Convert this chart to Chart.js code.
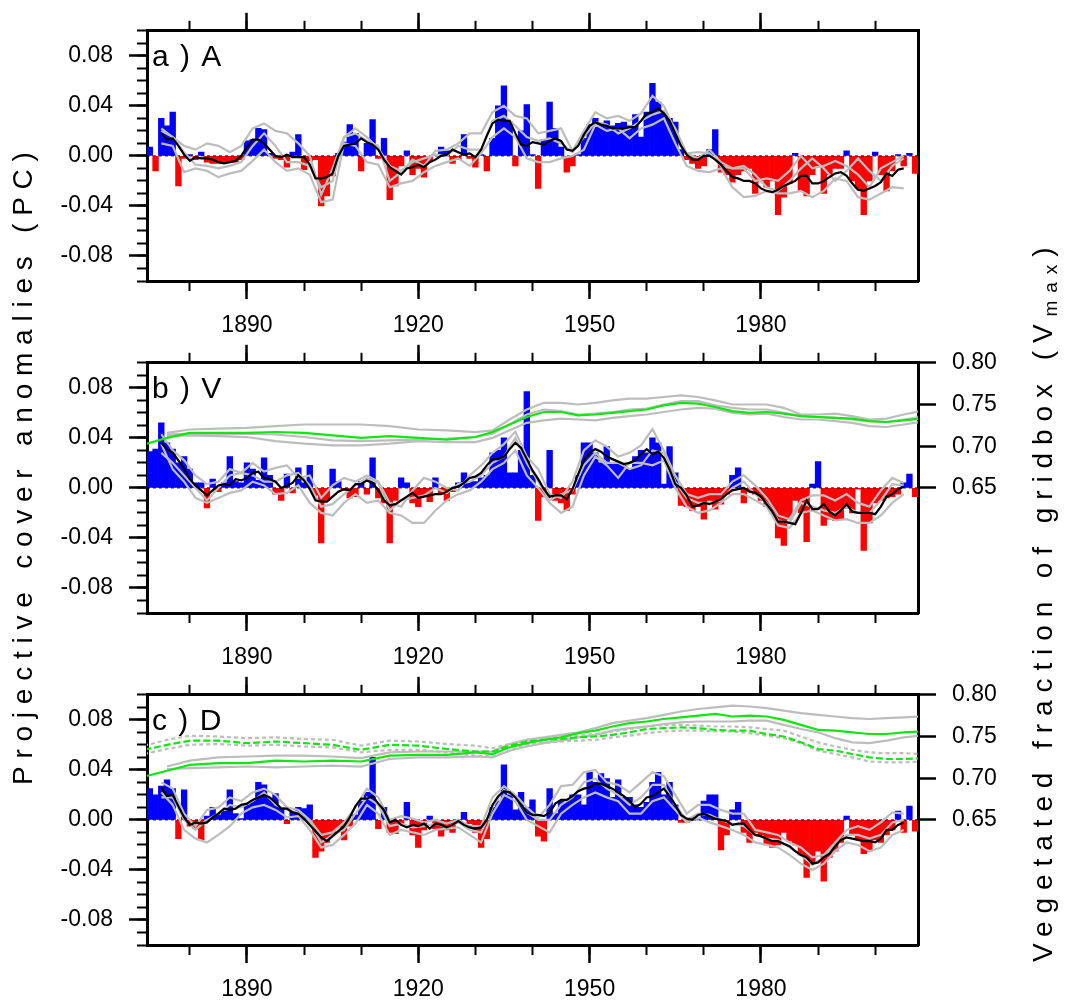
<!DOCTYPE html>
<html>
<head>
<meta charset="utf-8">
<script src="https://cdn.jsdelivr.net/npm/chart.js@4.4.1/dist/chart.umd.min.js"></script>
<style>
  body { margin: 0; background: #fff; width: 1066px; height: 1002px; position: relative; overflow: hidden;
         font-family: "Liberation Sans", Arial, sans-serif; color: #000; }
  .panel { position: absolute; left: 0; width: 1066px; height: 333px; }
  /* axis titles turn about their left-middle point, so "top" fixes where the text starts */
  .ytitle { position: absolute; white-space: nowrap; font-size: 28px; line-height: 28px; height: 28px;
            transform-origin: 0 50%; transform: rotate(-90deg); }
  .ytitle sub { font-size: 19px; vertical-align: -5px; line-height: 0; }
</style>
</head>
<body>
<div class="panel" style="top:1px"><canvas id="panelA" width="1066" height="333"></canvas></div>
<div class="panel" style="top:333px"><canvas id="panelV" width="1066" height="333"></canvas></div>
<div class="panel" style="top:665px"><canvas id="panelD" width="1066" height="333"></canvas></div>
<div class="ytitle" id="titleLeft" style="left:23px; top:771px">Projective cover anomalies (PC)</div>
<div class="ytitle" id="titleRight" style="left:1043px; top:948px">Vegetated fraction of gridbox (V<sub>max</sub>)</div>
<script>
// ---- data: yearly anomalies, bars 1873-2007 ----
const firstBarYear = 1873;
const barsA = [
  0.007, -0.012, 0.030, 0.024, 0.035, -0.024, -0.002, 0.001, -0.003, 0.003,
  -0.005, -0.006, -0.006, -0.006, -0.005, -0.005, -0.003, 0.012, 0.013, 0.022,
  0.021, 0.002, -0.002, -0.003, -0.009, 0.003, 0.017, -0.011, -0.004, -0.003,
  -0.040, -0.032, -0.016, 0.002, 0.011, 0.025, 0.018, -0.012, 0.010, 0.029,
  -0.002, 0.014, -0.035, -0.024, -0.008, 0.004, -0.015, -0.010, -0.017, -0.004,
  0.001, 0.007, 0.004, -0.006, -0.003, 0.017, -0.002, -0.009, 0.001, -0.012,
  0.014, 0.040, 0.056, 0.027, -0.008, 0.020, 0.041, 0.001, -0.026, 0.013,
  0.043, 0.022, 0.007, -0.013, -0.008, 0.001, 0.014, 0.025, 0.030, 0.025,
  0.028, 0.024, 0.026, 0.027, 0.024, 0.033, 0.015, 0.035, 0.058, 0.043,
  0.035, 0.030, 0.027, 0.005, -0.003, -0.006, -0.010, -0.008, 0.005, 0.021,
  -0.013, -0.015, -0.021, -0.015, -0.012, -0.010, -0.030, -0.020, -0.025, -0.020,
  -0.047, -0.033, -0.022, 0.002, -0.028, -0.032, -0.015, -0.008, -0.030, -0.015,
  -0.010, -0.010, 0.004, -0.020, -0.026, -0.047, -0.020, 0.003, -0.015, -0.028,
  -0.012, 0.001, -0.008, 0.002, -0.014
];
const barsV = [
  0.029, 0.031, 0.052, 0.036, 0.031, 0.020, 0.025, 0.015, 0.004, 0.004,
  -0.016, 0.007, -0.003, 0.004, 0.025, 0.005, 0.004, 0.020, 0.015, 0.006,
  0.024, 0.010, -0.005, -0.010, 0.011, -0.004, 0.016, 0.004, 0.018, -0.006,
  -0.044, -0.010, 0.015, 0.005, -0.002, -0.008, -0.007, 0.005, -0.005, 0.024,
  -0.008, -0.012, -0.044, -0.010, 0.008, 0.004, -0.012, -0.015, -0.006, -0.011,
  0.008, -0.005, -0.010, -0.003, 0.004, 0.012, 0.005, 0.005, 0.008, 0.010,
  0.028, 0.030, 0.040, 0.012, 0.012, 0.030, 0.077, 0.010, -0.026, -0.007,
  0.030, -0.010, -0.012, -0.018, -0.005, 0.010, 0.036, 0.036, 0.028, 0.020,
  0.033, 0.020, 0.020, 0.018, 0.015, 0.025, 0.030, 0.028, 0.040, 0.036,
  0.003, 0.033, 0.012, -0.014, -0.015, -0.018, -0.015, -0.025, -0.010, -0.017,
  -0.013, -0.005, 0.010, 0.016, -0.012, -0.003, -0.005, -0.010, -0.015, -0.020,
  -0.040, -0.046, -0.025, -0.010, -0.020, -0.043, 0.003, 0.021, -0.030, -0.025,
  -0.026, -0.025, -0.015, -0.020, -0.001, -0.050, -0.028, -0.012, -0.010, -0.008,
  -0.007, -0.005, 0.004, 0.011, -0.007
];
const barsD = [
  0.025, 0.020, 0.027, 0.032, 0.025, -0.015, 0.024, -0.005, -0.007, -0.016,
  0.003, 0.010, 0.004, 0.007, 0.024, 0.005, 0.001, 0.012, 0.015, 0.030,
  0.028, 0.017, 0.021, 0.010, -0.003, 0.006, 0.010, 0.009, 0.012, -0.030,
  -0.025, -0.018, -0.012, -0.006, -0.016, -0.005, 0.004, 0.015, 0.022, 0.050,
  -0.007, 0.010, -0.010, -0.011, -0.003, 0.014, -0.012, -0.022, -0.008, 0.003,
  -0.007, -0.013, -0.008, -0.010, -0.002, 0.006, -0.003, -0.010, -0.022, -0.015,
  0.010, 0.015, 0.044, 0.020, 0.008, 0.022, 0.010, 0.016, -0.013, -0.017,
  0.025, 0.005, 0.015, 0.015, 0.020, 0.020, 0.012, 0.038, 0.030, 0.037,
  0.033, 0.018, 0.032, 0.018, 0.018, 0.012, 0.010, 0.014, 0.030, 0.038,
  0.020, 0.030, 0.012, -0.002, -0.002, 0.002, 0.000, 0.015, 0.020, 0.020,
  -0.024, -0.012, 0.008, 0.014, -0.010, -0.018, -0.010, -0.012, -0.020, -0.022,
  -0.020, -0.010, -0.017, -0.020, -0.028, -0.046, -0.035, -0.025, -0.049, -0.030,
  -0.025, -0.018, 0.003, -0.012, -0.015, -0.027, -0.025, -0.016, -0.018, -0.012,
  -0.008, 0.007, -0.010, 0.011, -0.009
];

// ---- ensemble mean (black), 1875-2005 ----
const firstMeanYear = 1875;
const meanA = [
  0.018, 0.013, 0.014, 0.008, 0.001, -0.004, -0.001, -0.002, -0.002, -0.003,
  -0.005, -0.006, -0.005, -0.004, 0.000, 0.007, 0.013, 0.013, 0.010, 0.005,
  0.000, -0.001, 0.001, -0.001, -0.001, -0.001, -0.007, -0.018, -0.018, -0.017,
  -0.014, 0.000, 0.008, 0.009, 0.010, 0.014, 0.011, 0.009, 0.005, -0.003,
  -0.009, -0.012, -0.015, -0.010, -0.009, -0.007, -0.009, -0.005, -0.003, 0.000,
  0.001, 0.005, 0.003, 0.001, 0.002, -0.001, 0.005, 0.016, 0.026, 0.029,
  0.028, 0.028, 0.018, 0.009, 0.008, 0.011, 0.010, 0.009, 0.012, 0.014,
  0.012, 0.005, 0.004, 0.008, 0.017, 0.024, 0.027, 0.025, 0.024, 0.022,
  0.022, 0.022, 0.023, 0.023, 0.028, 0.034, 0.035, 0.038, 0.034, 0.028,
  0.018, 0.008, 0.001, -0.003, -0.003, 0.000, 0.000, -0.003, -0.007, -0.012,
  -0.017, -0.018, -0.020, -0.020, -0.022, -0.026, -0.028, -0.029, -0.027, -0.024,
  -0.022, -0.020, -0.016, -0.016, -0.022, -0.022, -0.020, -0.017, -0.014, -0.013,
  -0.016, -0.022, -0.027, -0.028, -0.026, -0.024, -0.021, -0.014, -0.016, -0.011,
  -0.010
];
const meanV = [
  0.036, 0.031, 0.028, 0.022, 0.015, 0.007, 0.002, -0.002, -0.006, -0.002,
  0.002, 0.003, 0.002, 0.007, 0.006, 0.008, 0.012, 0.013, 0.008, 0.007,
  0.005, 0.000, 0.002, 0.004, 0.010, 0.006, -0.001, -0.010, -0.011, -0.011,
  -0.007, -0.003, -0.001, -0.002, 0.003, 0.003, 0.006, 0.004, -0.002, -0.010,
  -0.014, -0.013, -0.010, -0.007, -0.004, -0.008, -0.007, -0.006, -0.005, -0.005,
  -0.003, 0.000, 0.001, 0.004, 0.008, 0.009, 0.012, 0.018, 0.023, 0.023,
  0.025, 0.031, 0.036, 0.032, 0.023, 0.014, 0.007, -0.001, -0.007, -0.006,
  -0.006, -0.009, -0.001, 0.011, 0.022, 0.028, 0.031, 0.029, 0.025, 0.023,
  0.021, 0.019, 0.020, 0.022, 0.027, 0.031, 0.027, 0.029, 0.024, 0.015,
  0.003, 0.000, -0.006, -0.015, -0.014, -0.012, -0.013, -0.011, -0.009, -0.005,
  -0.002, -0.001, 0.000, -0.003, -0.004, -0.007, -0.013, -0.019, -0.027, -0.027,
  -0.028, -0.029, -0.020, -0.010, -0.017, -0.017, -0.013, -0.019, -0.022, -0.018,
  -0.013, -0.019, -0.020, -0.020, -0.020, -0.021, -0.015, -0.007, -0.005, -0.001,
  0.001
];
const meanD = [
  0.026, 0.019, 0.020, 0.011, 0.002, -0.004, -0.002, -0.003, -0.002, 0.002,
  0.005, 0.009, 0.008, 0.009, 0.012, 0.013, 0.016, 0.018, 0.020, 0.018,
  0.014, 0.009, 0.009, 0.006, 0.005, 0.001, -0.004, -0.009, -0.014, -0.017,
  -0.013, -0.009, -0.005, 0.002, 0.011, 0.017, 0.017, 0.019, 0.013, 0.008,
  -0.002, 0.000, -0.004, -0.006, -0.004, -0.005, -0.003, -0.007, -0.003, -0.004,
  -0.006, -0.004, -0.001, -0.004, -0.006, -0.007, -0.006, 0.000, 0.012, 0.019,
  0.023, 0.022, 0.018, 0.012, 0.006, 0.004, 0.004, 0.003, 0.006, 0.013,
  0.016, 0.016, 0.019, 0.023, 0.025, 0.026, 0.029, 0.029, 0.027, 0.025,
  0.022, 0.019, 0.015, 0.010, 0.013, 0.018, 0.019, 0.022, 0.025, 0.019,
  0.012, 0.004, 0.001, 0.000, 0.004, 0.005, 0.003, 0.001, 0.000, -0.001,
  -0.004, -0.003, -0.003, -0.008, -0.012, -0.013, -0.015, -0.017, -0.017, -0.019,
  -0.021, -0.025, -0.028, -0.030, -0.035, -0.034, -0.030, -0.027, -0.021, -0.016,
  -0.014, -0.015, -0.016, -0.017, -0.017, -0.018, -0.015, -0.008, -0.008, -0.004,
  -0.002
];

// ---- single members (grey), every second year 1875-2005 ----
const firstMemberYear = 1875;
const grayA1 = [
  0.022, 0.015, 0.008, 0.005, 0.010, 0.008, 0.003, 0.008, 0.022, 0.026,
  0.020, 0.018, 0.010, 0.000, -0.031, -0.010, 0.015, 0.018, 0.012, 0.008,
  -0.020, -0.013, -0.003, -0.008, 0.004, 0.005, 0.010, 0.018, 0.018, 0.035,
  0.040, 0.032, 0.030, 0.018, 0.020, 0.022, 0.004, 0.020, 0.035, 0.030,
  0.032, 0.028, 0.034, 0.048, 0.040, 0.020, 0.002, -0.002, 0.005, -0.005,
  -0.010, -0.010, -0.020, -0.018, -0.020, -0.012, 0.000, -0.010, -0.008, -0.004,
  -0.008, -0.015, -0.025, -0.010, -0.005, 0.000
];
const grayA2 = [
  0.010, 0.008, -0.013, -0.010, -0.012, -0.017, -0.014, -0.012, -0.004, 0.005,
  -0.005, -0.012, -0.010, -0.015, -0.037, -0.035, 0.010, 0.008, -0.005, -0.007,
  -0.025, -0.022, -0.020, -0.013, -0.008, -0.005, -0.002, -0.008, 0.002, 0.015,
  0.022, 0.015, -0.002, -0.005, -0.005, -0.002, 0.000, 0.005, 0.025, 0.020,
  0.022, 0.014, 0.022, 0.025, 0.030, 0.010, -0.008, -0.012, -0.013, -0.010,
  -0.025, -0.033, -0.032, -0.028, -0.030, -0.030, -0.028, -0.033, -0.028, -0.018,
  -0.020, -0.033, -0.035, -0.030, -0.025, -0.026
];
const grayA3 = [
  0.020, 0.015, 0.003, -0.007, -0.008, -0.010, -0.008, -0.005, 0.008, 0.018,
  0.008, -0.005, -0.005, -0.008, -0.025, -0.020, 0.015, 0.022, 0.015, 0.006,
  -0.008, -0.012, -0.005, -0.002, 0.001, 0.000, 0.008, 0.005, 0.005, 0.028,
  0.032, 0.024, 0.015, 0.012, 0.014, 0.010, 0.003, 0.015, 0.027, 0.025,
  0.018, 0.022, 0.028, 0.033, 0.036, 0.022, 0.002, 0.003, 0.002, -0.008,
  -0.010, -0.008, -0.015, -0.025, -0.028, -0.020, -0.010, -0.002, -0.010, -0.020,
  -0.012, -0.002, -0.012, -0.020, -0.008, -0.002
];
const grayV1 = [
  0.043, 0.030, 0.022, 0.010, 0.003, 0.005, 0.015, 0.012, 0.020, 0.013,
  0.016, 0.018, 0.008, 0.010, -0.008, 0.002, 0.008, 0.005, 0.010, 0.005,
  -0.012, -0.015, -0.002, 0.008, 0.005, 0.000, -0.002, 0.010, 0.018, 0.028,
  0.035, 0.045, 0.025, 0.015, -0.005, -0.008, 0.005, 0.030, 0.038, 0.033,
  0.025, 0.028, 0.034, 0.047, 0.030, 0.010, -0.005, -0.008, -0.005, -0.005,
  0.005, 0.010, 0.002, -0.008, -0.022, -0.025, -0.010, -0.006, -0.006, -0.010,
  -0.005, -0.012, -0.015, -0.002, 0.008, 0.004
];
const grayV2 = [
  0.035, 0.015, 0.005, -0.008, -0.012, -0.008, -0.004, -0.002, 0.005, 0.002,
  -0.005, -0.004, 0.002, -0.012, -0.020, -0.022, -0.012, -0.005, -0.012, -0.010,
  -0.020, -0.022, -0.028, -0.028, -0.018, -0.010, -0.005, -0.002, 0.005, 0.015,
  0.020, 0.030, 0.010, 0.000, -0.012, -0.020, -0.015, 0.010, 0.025, 0.018,
  0.008, 0.020, 0.020, 0.018, 0.022, 0.000, -0.015, -0.020, -0.018, -0.012,
  -0.005, -0.005, -0.010, -0.015, -0.030, -0.032, -0.020, -0.018, -0.022, -0.026,
  -0.025, -0.028, -0.028, -0.022, -0.012, -0.005
];
const grayV3 = [
  0.028, 0.020, 0.010, 0.000, -0.010, 0.000, 0.010, 0.012, 0.010, 0.005,
  0.005, 0.010, 0.012, 0.002, -0.015, -0.013, -0.005, 0.002, 0.008, 0.004,
  -0.018, -0.010, -0.008, -0.006, 0.000, -0.004, 0.003, 0.005, 0.010, 0.020,
  0.025, 0.040, 0.020, 0.005, -0.010, -0.005, -0.002, 0.018, 0.028, 0.020,
  0.020, 0.015, 0.018, 0.030, 0.028, 0.005, -0.008, -0.012, -0.012, -0.010,
  0.000, 0.005, -0.005, -0.012, -0.026, -0.028, -0.012, -0.015, -0.018, -0.020,
  -0.015, -0.020, -0.020, -0.010, 0.003, 0.002
];
const grayD1 = [
  0.030, 0.025, 0.005, -0.005, 0.008, 0.010, 0.018, 0.015, 0.022, 0.025,
  0.020, 0.010, 0.008, 0.000, -0.012, -0.010, -0.002, 0.010, 0.025, 0.018,
  0.000, 0.003, 0.001, -0.002, 0.000, -0.003, 0.000, -0.005, -0.005, 0.018,
  0.027, 0.020, 0.010, 0.002, 0.012, 0.027, 0.028, 0.038, 0.040, 0.030,
  0.028, 0.022, 0.030, 0.038, 0.035, 0.020, 0.005, 0.012, 0.012, 0.008,
  0.005, 0.005, -0.008, -0.010, -0.012, -0.018, -0.022, -0.030, -0.028, -0.018,
  -0.008, -0.005, -0.008, -0.002, 0.006, 0.005
];
const grayD2 = [
  0.022, 0.012, -0.008, -0.015, -0.018, -0.012, -0.005, 0.005, 0.010, 0.012,
  0.008, 0.002, 0.003, -0.008, -0.022, -0.020, -0.012, -0.003, 0.012, 0.005,
  -0.012, -0.008, -0.010, -0.012, -0.008, -0.007, -0.006, -0.012, -0.018, 0.005,
  0.020, 0.015, 0.000, -0.005, -0.010, 0.005, 0.012, 0.018, 0.022, 0.018,
  0.015, 0.005, 0.005, 0.015, 0.018, 0.008, -0.002, 0.002, -0.002, -0.005,
  -0.008, -0.012, -0.018, -0.020, -0.022, -0.028, -0.035, -0.040, -0.035, -0.025,
  -0.018, -0.020, -0.025, -0.022, -0.012, -0.008
];
const grayD3 = [
  0.018, 0.018, 0.000, -0.008, 0.000, 0.005, 0.012, 0.010, 0.015, 0.022,
  0.012, 0.008, 0.006, -0.002, -0.018, -0.012, -0.008, 0.005, 0.018, 0.012,
  -0.005, -0.003, -0.006, -0.005, -0.003, -0.006, -0.002, -0.008, -0.010, 0.010,
  0.024, 0.018, 0.006, 0.000, 0.000, 0.012, 0.018, 0.030, 0.033, 0.025,
  0.020, 0.012, 0.018, 0.028, 0.028, 0.012, 0.000, 0.005, 0.004, 0.000,
  -0.003, -0.005, -0.012, -0.015, -0.016, -0.022, -0.028, -0.036, -0.030, -0.020,
  -0.012, -0.012, -0.015, -0.012, -0.002, 0.000
];

// ---- vegetated fraction (right axis) ----
const vegYears = [1872, 1876, 1880, 1885, 1890, 1895, 1900, 1905, 1910, 1915, 1920, 1925, 1930,
  1933, 1936, 1939, 1942, 1945, 1948, 1951, 1954, 1957, 1960, 1963, 1966, 1969, 1972, 1975,
  1978, 1981, 1984, 1987, 1990, 1993, 1996, 1999, 2002, 2005, 2008];
const vegV = [0.702, 0.710, 0.716, 0.716, 0.716, 0.717, 0.716, 0.713, 0.710, 0.712, 0.710, 0.708, 0.711,
  0.717, 0.726, 0.735, 0.741, 0.741, 0.737, 0.738, 0.740, 0.742, 0.744, 0.749, 0.752, 0.751, 0.747, 0.742,
  0.740, 0.741, 0.739, 0.736, 0.735, 0.734, 0.733, 0.730, 0.729, 0.731, 0.733];
const vegV1 = [null, 0.716, 0.720, 0.721, 0.722, 0.724, 0.726, 0.726, 0.726, 0.724, 0.720, 0.719, 0.717,
  0.719, 0.732, 0.744, 0.752, 0.752, 0.750, 0.752, 0.755, 0.757, 0.757, 0.759, 0.761, 0.759, 0.755, 0.750,
  0.750, 0.750, 0.746, 0.738, 0.738, 0.739, 0.736, 0.732, 0.733, 0.738, 0.742];
const vegV2 = [null, 0.712, 0.713, 0.712, 0.711, 0.706, 0.703, 0.701, 0.701, 0.703, 0.706, 0.705, 0.705,
  0.710, 0.719, 0.728, 0.731, 0.733, 0.732, 0.731, 0.734, 0.736, 0.738, 0.741, 0.744, 0.746, 0.745, 0.740,
  0.738, 0.739, 0.735, 0.732, 0.732, 0.730, 0.728, 0.724, 0.723, 0.726, 0.729];
const vegV3 = [null, 0.714, 0.715, 0.714, 0.715, 0.714, 0.711, 0.707, 0.706, 0.707, 0.708, 0.709, 0.711,
  0.715, 0.726, 0.738, 0.744, 0.742, 0.738, 0.739, 0.741, 0.744, 0.745, 0.750, 0.754, 0.754, 0.749, 0.746,
  0.744, 0.744, 0.740, 0.736, 0.735, 0.734, 0.732, 0.730, 0.729, 0.732, 0.735];
const vegD = [0.702, 0.709, 0.716, 0.718, 0.718, 0.721, 0.720, 0.721, 0.720, 0.727, 0.728, 0.728, 0.731,
  0.729, 0.737, 0.742, 0.746, 0.749, 0.754, 0.757, 0.762, 0.766, 0.768, 0.771, 0.773, 0.775, 0.777, 0.774,
  0.775, 0.774, 0.770, 0.764, 0.758, 0.757, 0.755, 0.753, 0.753, 0.755, 0.756];
const vegD1 = [null, 0.714, 0.721, 0.725, 0.726, 0.727, 0.727, 0.726, 0.724, 0.731, 0.732, 0.732, 0.732,
  0.732, 0.741, 0.746, 0.749, 0.752, 0.755, 0.760, 0.766, 0.769, 0.772, 0.776, 0.780, 0.783, 0.785, 0.787,
  0.786, 0.784, 0.781, 0.778, 0.776, 0.774, 0.772, 0.771, 0.772, 0.773, 0.774];
const vegD2 = [null, 0.711, 0.712, 0.713, 0.714, 0.713, 0.714, 0.715, 0.714, 0.723, 0.725, 0.725, 0.726,
  0.725, 0.733, 0.738, 0.742, 0.745, 0.749, 0.752, 0.757, 0.760, 0.762, 0.765, 0.767, 0.768, 0.768, 0.768,
  0.769, 0.769, 0.764, 0.759, 0.755, 0.748, 0.743, 0.742, 0.745, 0.749, 0.751];
const vegDdash = [0.734, 0.740, 0.745, 0.745, 0.742, 0.744, 0.742, 0.740, 0.734, 0.740, 0.739, 0.735, 0.732,
  0.732, 0.739, 0.744, 0.746, 0.747, 0.749, 0.750, 0.752, 0.755, 0.759, 0.760, 0.761, 0.760, 0.758, 0.757,
  0.757, 0.753, 0.750, 0.743, 0.735, 0.733, 0.729, 0.725, 0.723, 0.723, 0.724];
const vegDd1 = [0.739, 0.746, 0.751, 0.750, 0.748, 0.749, 0.747, 0.746, 0.739, 0.745, 0.744, 0.741, 0.739,
  0.736, 0.741, 0.746, 0.748, 0.750, 0.751, 0.753, 0.756, 0.759, 0.762, 0.764, 0.764, 0.763, 0.762, 0.762,
  0.761, 0.759, 0.757, 0.750, 0.743, 0.738, 0.734, 0.731, 0.730, 0.730, 0.729];
const vegDd2 = [0.729, 0.735, 0.740, 0.741, 0.739, 0.740, 0.738, 0.737, 0.731, 0.734, 0.734, 0.731, 0.727,
  0.726, 0.733, 0.740, 0.743, 0.744, 0.745, 0.746, 0.749, 0.751, 0.754, 0.756, 0.757, 0.757, 0.756, 0.756,
  0.754, 0.751, 0.748, 0.742, 0.733, 0.729, 0.725, 0.720, 0.719, 0.719, 0.720];

// ---- axes ----
const xMin = 1872.5, xMax = 2007.5;
const xMajorTicks = [1890, 1920, 1950, 1980];
const xMinorTicks = [1880, 1890, 1900, 1910, 1920, 1930, 1940, 1950, 1960, 1970, 1980, 1990, 2000];
const yMajorTicks = [-0.08, -0.04, 0, 0.04, 0.08];
const yMinorTicks = [-0.10, -0.09, -0.08, -0.07, -0.06, -0.05, -0.04, -0.03, -0.02, -0.01, 0,
  0.01, 0.02, 0.03, 0.04, 0.05, 0.06, 0.07, 0.08, 0.09, 0.10];
const rightTicks = [0.65, 0.70, 0.75, 0.80];

const barYears = barsA.map((_, i) => firstBarYear + i);
const meanYears = meanA.map((_, i) => firstMeanYear + i);
const memberYears = grayA1.map((_, i) => firstMemberYear + 2 * i);

const BLUE = '#0000ff', RED = '#ff0000', GREY = '#bdbdbd', GREEN = '#11e611';
const tickFont = { family: '"Liberation Sans", Arial, sans-serif', size: 23 };

function pts(xs, ys) {
  return xs.map((x, i) => ({ x: x, y: ys[i] })).filter(p => p.y !== null);
}
function fixTicks(values) {
  return axis => { axis.ticks = values.map(v => ({ value: v })); };
}
function fixSize(px) {
  return axis => { if (axis.isHorizontal()) axis.height = px; else axis.width = px; };
}
function tickGrid(len, width, show) {
  return { drawOnChartArea: false, drawTicks: show !== false, tickLength: len, tickWidth: width,
           tickColor: '#000', offset: false };
}
const frame = { display: true, width: 3, color: '#000' };
const noFrame = { display: false };

function makeScales(hasRight) {
  const xBase = { type: 'linear', min: xMin, max: xMax, offset: false };
  const yBase = { type: 'linear', min: -0.1, max: 0.1 };
  return {
    x: { ...xBase, position: 'bottom', weight: 1, afterBuildTicks: fixTicks(xMajorTicks), afterFit: fixSize(53),
         grid: tickGrid(18, 2.5), border: frame,
         ticks: { font: tickFont, color: '#000', padding: 13, maxRotation: 0, autoSkip: false, callback: v => String(v) } },
    xMinor: { ...xBase, position: 'bottom', weight: 0, afterBuildTicks: fixTicks(xMinorTicks), afterFit: fixSize(0),
         grid: tickGrid(10, 2), border: noFrame, ticks: { display: false } },
    xTop: { ...xBase, position: 'top', weight: 1, afterBuildTicks: fixTicks(xMajorTicks), afterFit: fixSize(24),
         grid: tickGrid(18, 2.5), border: frame, ticks: { display: false } },
    xTopMinor: { ...xBase, position: 'top', weight: 0, afterBuildTicks: fixTicks(xMinorTicks), afterFit: fixSize(0),
         grid: tickGrid(10, 2), border: noFrame, ticks: { display: false } },
    y: { ...yBase, position: 'left', weight: 1, afterBuildTicks: fixTicks(yMajorTicks), afterFit: fixSize(147),
         grid: tickGrid(18, 2.5), border: frame,
         ticks: { font: tickFont, color: '#000', padding: 16, callback: v => v.toFixed(2) } },
    yMinor: { ...yBase, position: 'left', weight: 0, afterBuildTicks: fixTicks(yMinorTicks), afterFit: fixSize(0),
         grid: tickGrid(10, 2), border: noFrame, ticks: { display: false } },
    yR: { type: 'linear', min: 0.5, max: 0.8, position: 'right', weight: 1, afterBuildTicks: fixTicks(rightTicks),
         afterFit: fixSize(148), grid: tickGrid(18, 2.5, hasRight), border: frame,
         ticks: { display: hasRight, font: tickFont, color: '#000', padding: 16, callback: v => v.toFixed(2) } }
  };
}

// panel letter in the top left corner of the plot
const panelLabel = {
  id: 'panelLabel',
  afterDraw(chart, args, opts) {
    const { ctx, chartArea } = chart;
    ctx.save();
    ctx.font = '30px "Liberation Sans", Arial, sans-serif';
    ctx.letterSpacing = '1.5px';
    ctx.fillStyle = '#000';
    ctx.textBaseline = 'alphabetic';
    ctx.fillText(opts.text, chartArea.left + 5, chartArea.top + 35);
    ctx.restore();
  }
};

function line(data, color, axis, order, dash) {
  return { type: 'line', data: data, borderColor: color, borderWidth: 2.2, borderDash: dash || [],
           pointRadius: 0, fill: false, tension: 0, xAxisID: 'x', yAxisID: axis, order: order };
}

const panels = [
  { id: 'panelA', label: 'a ) A', bars: barsA, mean: meanA, members: [grayA1, grayA2, grayA3], veg: [] },
  { id: 'panelV', label: 'b ) V', bars: barsV, mean: meanV, members: [grayV1, grayV2, grayV3],
    veg: [{ main: vegV, members: [vegV1, vegV2, vegV3], dash: [] }] },
  { id: 'panelD', label: 'c ) D', bars: barsD, mean: meanD, members: [grayD1, grayD2, grayD3],
    veg: [{ main: vegD, members: [vegD1, vegD2], dash: [] },
          { main: vegDdash, members: [vegDd1, vegDd2], dash: [7, 3] }] }
];

panels.forEach(p => {
  const datasets = [];
  datasets.push({
    type: 'bar', data: pts(barYears, p.bars),
    backgroundColor: p.bars.map(v => v < 0 ? RED : BLUE),
    borderWidth: 0, barPercentage: 1, categoryPercentage: 1,
    xAxisID: 'x', yAxisID: 'y', order: 20
  });
  datasets.push({ ...line([{ x: xMin, y: 0 }, { x: xMax, y: 0 }], '#000', 'y', 15, [3, 3]), borderWidth: 1 });
  p.members.forEach(m => datasets.push(line(pts(memberYears, m), GREY, 'y', 10)));
  datasets.push(line(pts(meanYears, p.mean), '#000', 'y', 5));
  p.veg.forEach(v => {
    v.members.forEach(m => datasets.push(line(pts(vegYears, m), GREY, 'yR', 4, v.dash.length ? [4, 3] : [])));
    datasets.push(line(pts(vegYears, v.main), GREEN, 'yR', 3, v.dash));
  });

  new Chart(document.getElementById(p.id), {
    type: 'bar',
    data: { datasets: datasets },
    options: {
      responsive: false,
      animation: false,
      devicePixelRatio: 1,
      events: [],
      layout: { padding: 0 },
      plugins: {
        legend: { display: false },
        tooltip: { enabled: false },
        panelLabel: { text: p.label }
      },
      scales: makeScales(p.veg.length > 0)
    },
    plugins: [panelLabel]
  });
});

// spread the spaced-out axis titles over the same length as in the figure
function stretchTitle(el, length) {
  el.style.letterSpacing = '0px';
  const natural = el.offsetWidth;
  const n = el.textContent.length;
  el.style.letterSpacing = ((length - natural) / (n - 1)) + 'px';
}
stretchTitle(document.getElementById('titleLeft'), 633);
stretchTitle(document.getElementById('titleRight'), 714);
</script>
</body>
</html>
